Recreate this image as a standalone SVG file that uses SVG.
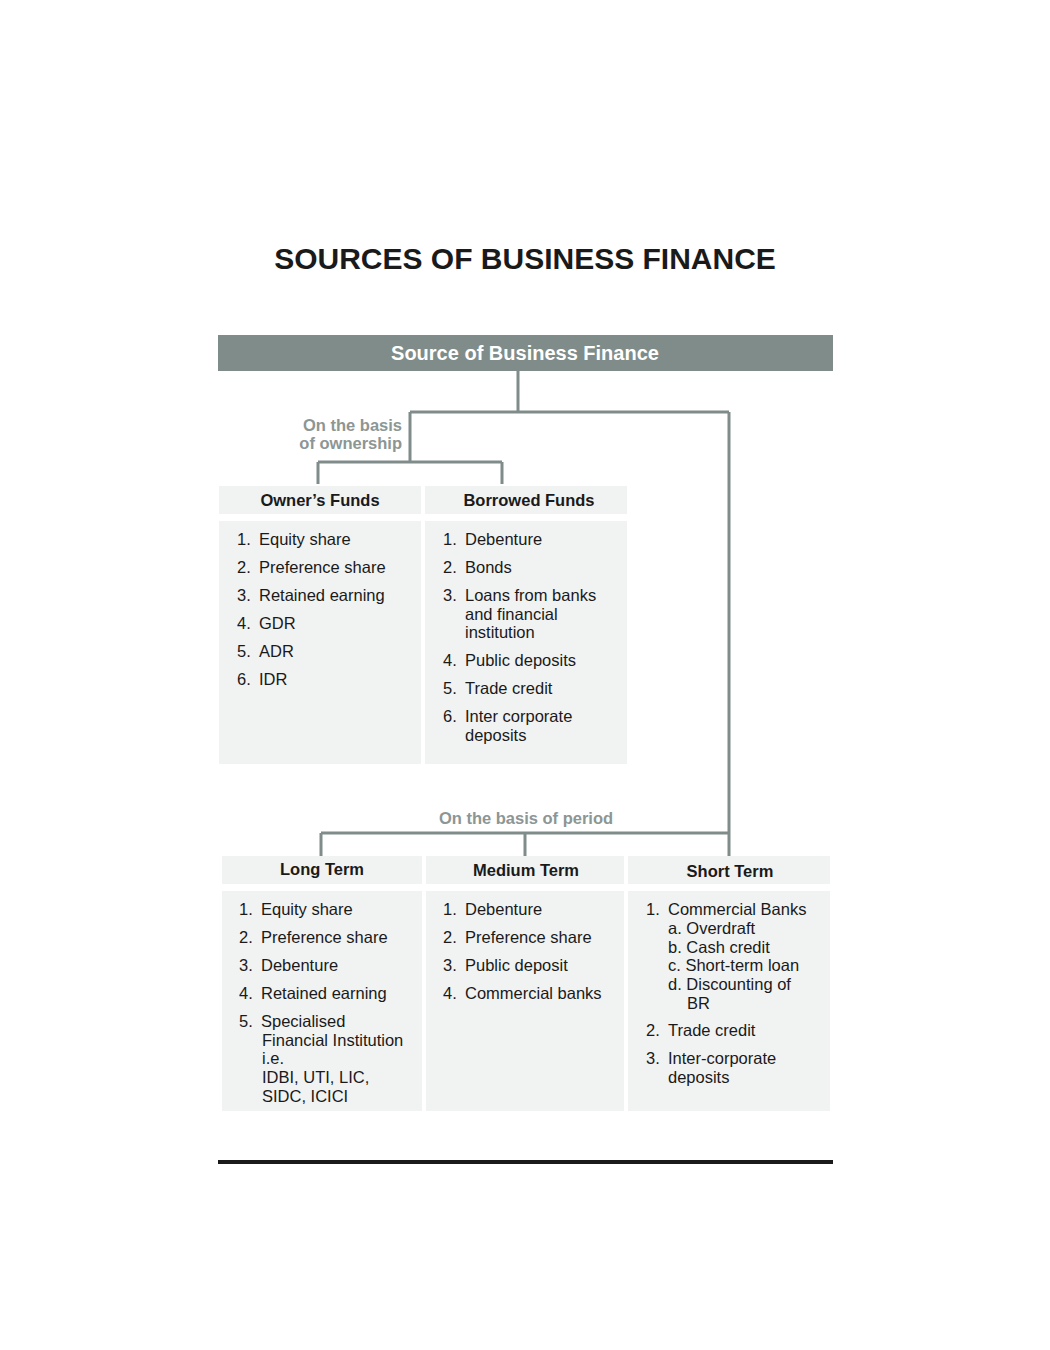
<svg xmlns="http://www.w3.org/2000/svg" width="1050" height="1350" viewBox="0 0 1050 1350">
<style>
text{font-family:"Liberation Sans",Arial,sans-serif;}
.title{font-size:30px;font-weight:bold;fill:#1a1a1a;text-anchor:middle;}
.bar{fill:#7f8c89;}
.bartxt{font-size:20px;font-weight:bold;fill:#ffffff;text-anchor:middle;}
.box{fill:#f1f2f2;}
.hd{font-size:16.5px;font-weight:bold;fill:#1a1a1a;text-anchor:middle;}
.it{font-size:16.5px;fill:#1a1a1a;}
.lbl{font-size:16.5px;font-weight:bold;fill:#8c9694;}
.con{fill:none;stroke:#7f8c89;stroke-width:3;}
</style>
<rect width="1050" height="1350" fill="#ffffff"/>
<text class="title" x="525" y="269">SOURCES OF BUSINESS FINANCE</text>

<g id="connectors">
<path class="con" d="M518,371 V412 M410,412 H729 M410,412 V462 M318,462 H502 M318,462 V484 M502,462 V484 M729,412 V856 M321,833 H729 M321,833 V856 M525,833 V856"/>
<text class="lbl" x="402" y="431" text-anchor="end">On the basis</text>
<text class="lbl" x="402" y="449" text-anchor="end">of ownership</text>
<text class="lbl" x="526" y="824" text-anchor="middle">On the basis of period</text>
</g>

<g id="root">
<rect class="bar" x="218" y="335" width="615" height="36"/>
<text class="bartxt" x="525" y="360">Source of Business Finance</text>
</g>

<g id="owners-funds">
<rect class="box" x="219" y="486" width="202" height="28"/>
<text class="hd" x="320" y="506">Owner’s Funds</text>
<rect class="box" x="219" y="521" width="202" height="243"/>
<text class="it" x="237" y="545">1.</text><text class="it" x="259" y="545">Equity share</text>
<text class="it" x="237" y="573">2.</text><text class="it" x="259" y="573">Preference share</text>
<text class="it" x="237" y="601">3.</text><text class="it" x="259" y="601">Retained earning</text>
<text class="it" x="237" y="629">4.</text><text class="it" x="259" y="629">GDR</text>
<text class="it" x="237" y="657">5.</text><text class="it" x="259" y="657">ADR</text>
<text class="it" x="237" y="685">6.</text><text class="it" x="259" y="685">IDR</text>
</g>

<g id="borrowed-funds">
<rect class="box" x="425" y="486" width="202" height="28"/>
<text class="hd" x="529" y="506">Borrowed Funds</text>
<rect class="box" x="425" y="521" width="202" height="243"/>
<text class="it" x="443" y="545">1.</text><text class="it" x="465" y="545">Debenture</text>
<text class="it" x="443" y="573">2.</text><text class="it" x="465" y="573">Bonds</text>
<text class="it" x="443" y="601">3.</text><text class="it" x="465" y="601">Loans from banks</text>
<text class="it" x="465" y="620">and financial</text>
<text class="it" x="465" y="638">institution</text>
<text class="it" x="443" y="666">4.</text><text class="it" x="465" y="666">Public deposits</text>
<text class="it" x="443" y="694">5.</text><text class="it" x="465" y="694">Trade credit</text>
<text class="it" x="443" y="722">6.</text><text class="it" x="465" y="722">Inter corporate</text>
<text class="it" x="465" y="741">deposits</text>
</g>

<g id="long-term">
<rect class="box" x="222" y="856" width="200" height="28"/>
<text class="hd" x="322" y="875">Long Term</text>
<rect class="box" x="222" y="891" width="200" height="220"/>
<text class="it" x="239" y="915">1.</text><text class="it" x="261" y="915">Equity share</text>
<text class="it" x="239" y="943">2.</text><text class="it" x="261" y="943">Preference share</text>
<text class="it" x="239" y="971">3.</text><text class="it" x="261" y="971">Debenture</text>
<text class="it" x="239" y="999">4.</text><text class="it" x="261" y="999">Retained earning</text>
<text class="it" x="239" y="1027">5.</text><text class="it" x="261" y="1027">Specialised</text>
<text class="it" x="262" y="1046">Financial Institution</text>
<text class="it" x="262" y="1064">i.e.</text>
<text class="it" x="262" y="1083">IDBI, UTI, LIC,</text>
<text class="it" x="262" y="1102">SIDC, ICICI</text>
</g>

<g id="medium-term">
<rect class="box" x="426" y="856" width="198" height="28"/>
<text class="hd" x="526" y="876">Medium Term</text>
<rect class="box" x="426" y="891" width="198" height="220"/>
<text class="it" x="443" y="915">1.</text><text class="it" x="465" y="915">Debenture</text>
<text class="it" x="443" y="943">2.</text><text class="it" x="465" y="943">Preference share</text>
<text class="it" x="443" y="971">3.</text><text class="it" x="465" y="971">Public deposit</text>
<text class="it" x="443" y="999">4.</text><text class="it" x="465" y="999">Commercial banks</text>
</g>

<g id="short-term">
<rect class="box" x="628" y="856" width="202" height="28"/>
<text class="hd" x="730" y="877">Short Term</text>
<rect class="box" x="628" y="891" width="202" height="220"/>
<text class="it" x="646" y="915">1.</text><text class="it" x="668" y="915">Commercial Banks</text>
<text class="it" x="668" y="934">a. Overdraft</text>
<text class="it" x="668" y="953">b. Cash credit</text>
<text class="it" x="668" y="971">c. Short-term loan</text>
<text class="it" x="668" y="990">d. Discounting of</text>
<text class="it" x="687" y="1009">BR</text>
<text class="it" x="646" y="1036">2.</text><text class="it" x="668" y="1036">Trade credit</text>
<text class="it" x="646" y="1064">3.</text><text class="it" x="668" y="1064">Inter-corporate</text>
<text class="it" x="668" y="1083">deposits</text>
</g>

<rect x="218" y="1160" width="615" height="4" fill="#1a1a1a"/>
</svg>
